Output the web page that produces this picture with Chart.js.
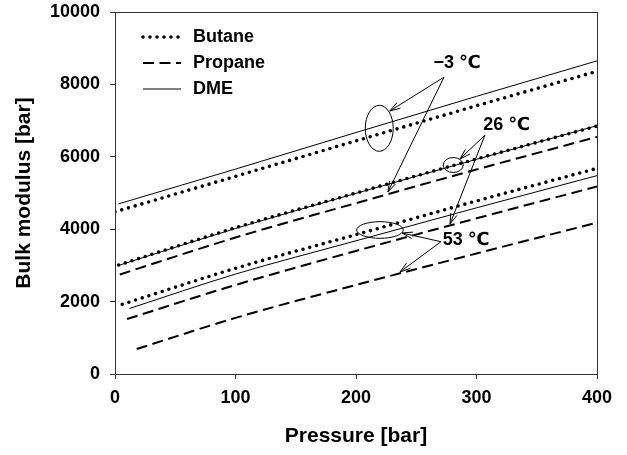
<!DOCTYPE html>
<html>
<head>
<meta charset="utf-8">
<script src="https://cdn.jsdelivr.net/npm/chart.js@4/dist/chart.umd.min.js"></script>
<style>
  html, body { margin: 0; padding: 0; background: #fff; }
  #wrap { width: 627px; height: 455px; }
</style>
</head>
<body>
<div id="wrap"><canvas id="c" width="627" height="455"></canvas></div>
<script>
// ---------------- data ----------------
const fluidNames = ["Butane", "Propane", "DME"];
const temperatureLabels = ["\u22123 \u2103", "26 \u2103", "53 \u2103"];
const xTickValues = [0, 100, 200, 300, 400];
const yTickValues = [0, 2000, 4000, 6000, 8000, 10000];

// Pressure [bar] / Bulk modulus [bar]
const butaneM3P  = [0, 100, 200, 300, 400];
const butaneM3K  = [4480, 5460, 6440, 7410, 8360];
const dmeM3P     = [3, 100, 200, 300, 400];
const dmeM3K     = [4700, 5660, 6670, 7670, 8650];
const propaneM3P = [4, 100, 200, 300, 400];
const propaneM3K = [2750, 3770, 4720, 5650, 6550];

const butane26P  = [3, 100, 200, 300, 400];
const butane26K  = [3010, 4040, 5000, 5940, 6850];
const dme26P     = [3, 100, 200, 300, 400];
const dme26K     = [3000, 4020, 4990, 5930, 6860];
const propane26P = [10, 100, 200, 300, 400];
const propane26K = [1520, 2460, 3400, 4300, 5180];

const butane53P  = [6, 100, 200, 300, 400];
const butane53K  = [1925, 2920, 3850, 4780, 5680];
const dme53P     = [12, 100, 200, 300, 400];
const dme53K     = [1810, 2760, 3680, 4590, 5480];
const propane53P = [18, 100, 200, 300, 400];
const propane53K = [690, 1550, 2460, 3330, 4180];

// ---------------- styles ----------------
const FONT = "'Liberation Sans', Arial, 'DejaVu Sans', 'Noto Sans CJK SC', sans-serif";
const styleByFluid = {
  Butane:  { borderWidth: 3.6, borderDash: [0, 7], borderCapStyle: 'round' },
  Propane: { borderWidth: 2,   borderDash: [11, 5.5],  borderCapStyle: 'butt' },
  DME:     { borderWidth: 1,   borderDash: [],       borderCapStyle: 'butt' }
};

function pts(px, ky) { return px.map((p, i) => ({ x: p, y: ky[i] })); }
function ds(fluid, temp, px, ky) {
  const s = styleByFluid[fluid];
  return Object.assign({
    label: fluid + " " + temp,
    fluid: fluid,
    data: pts(px, ky),
    showLine: true,
    pointRadius: 0,
    borderColor: '#000',
    backgroundColor: '#000',
    fill: false,
    tension: 0.3,
    cubicInterpolationMode: 'monotone'
  }, s);
}

const datasets = [
  ds("DME", temperatureLabels[0], dmeM3P, dmeM3K),
  ds("Butane", temperatureLabels[0], butaneM3P, butaneM3K),
  ds("Propane", temperatureLabels[0], propaneM3P, propaneM3K),
  ds("DME", temperatureLabels[1], dme26P, dme26K),
  ds("Butane", temperatureLabels[1], butane26P, butane26K),
  ds("Propane", temperatureLabels[1], propane26P, propane26K),
  ds("Butane", temperatureLabels[2], butane53P, butane53K),
  ds("DME", temperatureLabels[2], dme53P, dme53K),
  ds("Propane", temperatureLabels[2], propane53P, propane53K)
];

// annotation layout (data units for anchors)
const annotations = [
  { text: temperatureLabels[0], at: [284, 8590], from: [273, 8200],
    to: [[228, 7265], [226.5, 5030]], ellipse: { c: [219.3, 6787], rx: 11.6, ry: 635 } },
  { text: temperatureLabels[1], at: [325, 6880], from: [307, 6600],
    to: [[286.3, 5939], [278, 4144]], ellipse: { c: [280.7, 5773], rx: 8.3, ry: 207 } },
  { text: temperatureLabels[2], at: [291.5, 3702], from: [270.5, 3655],
    to: [[238.2, 3895], [236.5, 2818]], ellipse: { c: [219.9, 3978], rx: 19.3, ry: 230 } }
];

const framePlugin = {
  id: 'frame',
  afterDatasetsDraw(chart) {
    const { ctx, chartArea: a, scales } = chart;
    const xs = scales.x, ys = scales.y;
    ctx.save();
    // frame
    ctx.strokeStyle = '#333';
    ctx.lineWidth = 1;
    ctx.setLineDash([]);
    ctx.strokeRect(Math.round(a.left) + 0.5, Math.round(a.top) + 0.5,
                   Math.round(a.right - a.left), Math.round(a.bottom - a.top));

    // legend
    ctx.font = "bold 18px " + FONT;
    ctx.fillStyle = '#000';
    ctx.textBaseline = 'middle';
    fluidNames.forEach((name, i) => {
      const s = styleByFluid[name];
      const y = a.top + 25 + i * 26;
      ctx.strokeStyle = '#000';
      ctx.lineWidth = s.borderWidth;
      ctx.setLineDash(s.borderDash);
      ctx.lineCap = s.borderCapStyle;
      ctx.beginPath();
      ctx.moveTo(a.left + 28, y);
      ctx.lineTo(a.left + 66, y);
      ctx.stroke();
      ctx.setLineDash([]);
      ctx.lineCap = 'butt';
      ctx.fillText(name, a.left + 78, y);
    });

    // annotations
    ctx.lineWidth = 1;
    ctx.strokeStyle = '#000';
    ctx.setLineDash([]);
    annotations.forEach(an => {
      const fx = xs.getPixelForValue(an.from[0]), fy = ys.getPixelForValue(an.from[1]);
      an.to.forEach(t => {
        const tx = xs.getPixelForValue(t[0]), ty = ys.getPixelForValue(t[1]);
        ctx.beginPath();
        ctx.moveTo(fx, fy);
        ctx.lineTo(tx, ty);
        ctx.stroke();
        const ang = Math.atan2(ty - fy, tx - fx);
        const L = 11, h = 0.3;
        ctx.beginPath();
        ctx.moveTo(tx - L * Math.cos(ang - h), ty - L * Math.sin(ang - h));
        ctx.lineTo(tx, ty);
        ctx.lineTo(tx - L * Math.cos(ang + h), ty - L * Math.sin(ang + h));
        ctx.stroke();
      });
      const e = an.ellipse;
      const cx = xs.getPixelForValue(e.c[0]), cy = ys.getPixelForValue(e.c[1]);
      const rx = Math.abs(xs.getPixelForValue(e.c[0] + e.rx) - cx);
      const ry = Math.abs(ys.getPixelForValue(e.c[1] + e.ry) - cy);
      ctx.beginPath();
      ctx.ellipse(cx, cy, rx, ry, 0, 0, Math.PI * 2);
      ctx.stroke();
      ctx.font = "bold 18px " + FONT;
      ctx.textAlign = 'center';
      ctx.textBaseline = 'middle';
      ctx.fillStyle = '#000';
      ctx.fillText(an.text, xs.getPixelForValue(an.at[0]), ys.getPixelForValue(an.at[1]));
    });
    ctx.restore();
  }
};

new Chart(document.getElementById('c'), {
  type: 'scatter',
  data: { datasets },
  options: {
    responsive: false,
    animation: false,
    layout: { padding: { top: 12, right: 30, left: 0, bottom: 0 } },
    plugins: { legend: { display: false }, tooltip: { enabled: false } },
    scales: {
      x: {
        type: 'linear', min: 0, max: 400,
        afterBuildTicks: s => { s.ticks = xTickValues.map(v => ({ value: v })); },
        afterFit: s => { s.height = 81; s.paddingLeft = 0; s.paddingRight = 0; },
        grid: { drawOnChartArea: false, drawTicks: true, tickLength: 5, color: '#333' },
        border: { display: true, color: '#333' },
        ticks: { color: '#000', padding: 8, font: { family: FONT, size: 18, weight: 'bold' } },
        title: { display: true, text: 'Pressure [bar]', color: '#000',
                 padding: { top: 0, bottom: 6 }, font: { family: FONT, size: 21, weight: 'bold' } }
      },
      y: {
        type: 'linear', min: 0, max: 10000,
        afterBuildTicks: s => { s.ticks = yTickValues.map(v => ({ value: v })); },
        afterFit: s => { s.width = 115; s.paddingTop = 0; s.paddingBottom = 0; },
        grid: { drawOnChartArea: false, drawTicks: true, tickLength: 5, color: '#333' },
        border: { display: true, color: '#333' },
        ticks: { color: '#000', padding: 10, font: { family: FONT, size: 18, weight: 'bold' },
                 callback: v => String(v) },
        title: { display: true, text: 'Bulk modulus [bar]', color: '#000',
                 padding: { top: 12, bottom: 0 }, font: { family: FONT, size: 21, weight: 'bold' } }
      }
    }
  },
  plugins: [framePlugin]
});
</script>
</body>
</html>
